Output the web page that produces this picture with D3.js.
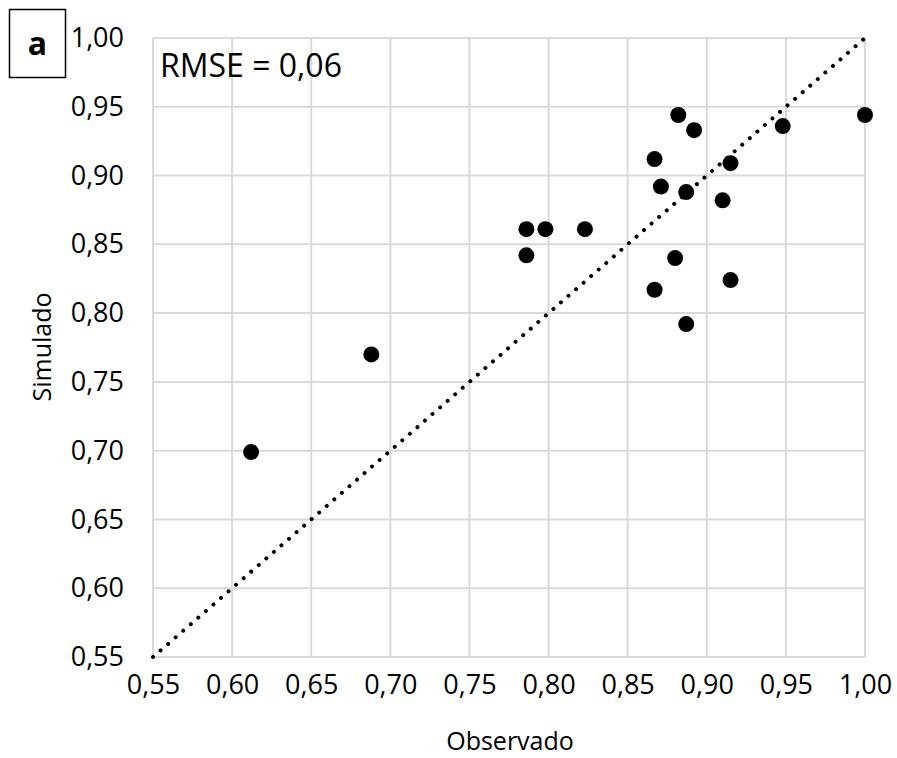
<!DOCTYPE html>
<html><head><meta charset="utf-8">
<script src="https://cdn.jsdelivr.net/npm/d3@7"></script>
<style>body{margin:0;background:#fff}svg{display:block}text{font-family:"Open Sans",sans-serif;fill:#000}</style>
</head><body>
<svg id="c" width="897" height="758"></svg>
<script>
const observado = [0.612,0.688,0.786,0.798,0.823,0.786,0.880,0.867,0.887,0.915,0.882,0.892,0.867,0.915,0.871,0.887,0.910,0.948,1.000];
const simulado  = [0.699,0.770,0.861,0.861,0.861,0.842,0.840,0.817,0.792,0.824,0.944,0.933,0.912,0.909,0.892,0.888,0.882,0.936,0.944];
const ticks = [0.55,0.60,0.65,0.70,0.75,0.80,0.85,0.90,0.95,1.00];
const fmt = v => d3.format(".2f")(v).replace(".", ",");

const svg = d3.select("#c");
const x = d3.scaleLinear().domain([0.55,1.00]).range([153,865]);
const y = d3.scaleLinear().domain([0.55,1.00]).range([657,38]);

// gridlines
svg.append("g").selectAll("line").data(ticks).join("line")
  .attr("x1", d=>x(d)).attr("x2", d=>x(d)).attr("y1", y(0.55)).attr("y2", y(1))
  .attr("stroke","#d9d9d9").attr("stroke-width",2);
svg.append("g").selectAll("line").data(ticks).join("line")
  .attr("y1", d=>y(d)).attr("y2", d=>y(d)).attr("x1", x(0.55)).attr("x2", x(1))
  .attr("stroke","#d9d9d9").attr("stroke-width",2);

// axes (labels only)
const xa = svg.append("g").attr("transform",`translate(0,${y(0.55)})`)
  .call(d3.axisBottom(x).tickValues(ticks).tickFormat(fmt).tickSize(0).tickPadding(18));
const ya = svg.append("g").attr("transform",`translate(${x(0.55)},0)`)
  .call(d3.axisLeft(y).tickValues(ticks).tickFormat(fmt).tickSize(0).tickPadding(29));
[xa,ya].forEach(a=>{a.select(".domain").remove(); a.selectAll("text").attr("font-size",27).attr("font-family","Open Sans");});

// 1:1 dotted line
svg.append("line").attr("x1",x(0.55)).attr("y1",y(0.55)).attr("x2",x(1)).attr("y2",y(1))
  .attr("stroke","#000").attr("stroke-width",4).attr("stroke-linecap","round").attr("stroke-dasharray","0.01 10");

// points
svg.append("g").selectAll("circle").data(observado.map((d,i)=>[d,simulado[i]])).join("circle")
  .attr("cx",d=>x(d[0])).attr("cy",d=>y(d[1])).attr("r",8).attr("fill","#000");

// texts
svg.append("text").attr("x",160).attr("y",77).attr("font-size",32).text("RMSE = 0,06");
svg.append("text").attr("x",510).attr("y",750).attr("text-anchor","middle").attr("font-size",25).text("Observado");
svg.append("text").attr("transform","translate(51,347) rotate(-90)").attr("text-anchor","middle").attr("font-size",25).text("Simulado");

// panel label
svg.append("rect").attr("x",9.5).attr("y",9.5).attr("width",56).attr("height",68).attr("fill","#fff").attr("stroke","#000").attr("stroke-width",1.5);
svg.append("text").attr("x",37.5).attr("y",55).attr("text-anchor","middle").attr("font-size",32).attr("font-weight","bold").text("a");
</script>
</body></html>
